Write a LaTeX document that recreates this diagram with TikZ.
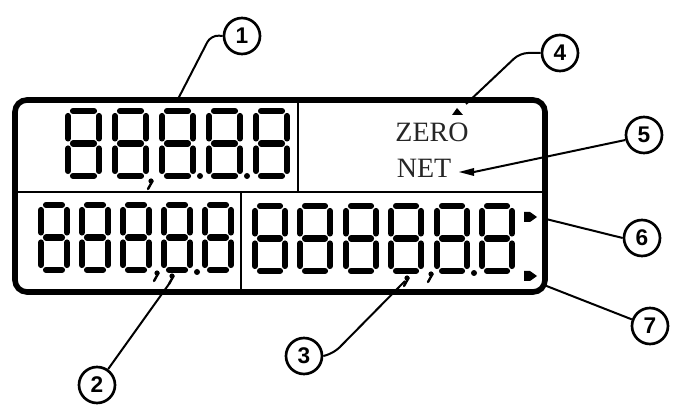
\documentclass[tikz,border=0pt]{standalone}
\usepackage{fontspec}
\setmainfont{Liberation Serif}
\setsansfont{Liberation Sans}
\usetikzlibrary{positioning, calc, arrows.meta}

% seven-segment digit: x, y of the top-left corner, width
\newcommand{\segdigit}[3]{%
  \begin{scope}[shift={(#1,#2)}]
    \pgfmathsetmacro{\segR}{#3-3}
    \pgfmathsetmacro{\segI}{#3-8}
    \draw[seg] (8,3) -- (\segI,3);
    \draw[seg] (8,35.5) -- (\segI,35.5);
    \draw[seg] (8,68) -- (\segI,68);
    \draw[seg] (3,8) -- (3,30.5);
    \draw[seg] (3,40.5) -- (3,63);
    \draw[seg] (\segR,8) -- (\segR,30.5);
    \draw[seg] (\segR,40.5) -- (\segR,63);
  \end{scope}}

% comma mark: x, y of its head
\newcommand{\segcomma}[2]{%
  \fill (#1,#2) circle (2.6);
  \draw[comma] (#1+1.5,#2) -- (#1-3,#2+8);}

\begin{document}
\begin{tikzpicture}[
    x=0.75pt, y=-0.75pt,
    seg/.style={line width=4.6pt, line cap=round},
    frame/.style={line width=4.2pt, rounded corners=9pt},
    divider/.style={line width=1.4pt},
    callout/.style={circle, draw, line width=2pt, minimum size=27pt, inner sep=0pt,
                    font=\sffamily\bfseries\fontsize{17}{17}\selectfont},
    leader/.style={line width=1.5pt, rounded corners=6pt},
    label/.style={font=\fontsize{21}{21}\selectfont, text=black!85},
    comma/.style={line width=1.8pt, line cap=round}
]
    \useasboundingbox (0,0) rectangle (678,409);

    % display frame and panes
    \draw[frame] (15,100) rectangle (545,292);
    \draw[divider] (15,192) -- (545,192);
    \draw[divider] (298,100) -- (298,192);
    \draw[divider] (241,192) -- (241,292);

    % digits
    \foreach \x in {65,112,159,206,253} {\segdigit{\x}{108}{37}}
    \foreach \x in {38,79,120,161,202} {\segdigit{\x}{202}{32}}
    \foreach \x in {252,297,343,388,434,479} {\segdigit{\x}{203}{36}}

    % decimal points and commas
    \segcomma{151}{181}
    \fill (200,176) circle (3);
    \fill (247,176) circle (3);
    \segcomma{157}{273}
    \segcomma{172}{276}
    \fill (197,272) circle (3);
    \segcomma{407}{278}
    \segcomma{431}{274}
    \fill (474,273) circle (3);

    % indicators
    \node[label] (zero) at (432,132) {ZERO};
    \node[label] (net) at (424,168) {NET};
    \coordinate (zeromark) at (457,112);
    \coordinate (netmark) at (474,172);
    \fill (452,115) -- (463,115) -- (457,108) -- cycle;
    \fill (459,172) -- (474,168) -- (474,176) -- cycle;
    \fill (524,212) -- (530,212) -- (537,217) -- (530,222) -- (524,222) -- cycle;
    \fill (524,271) -- (530,271) -- (537,276) -- (530,281) -- (524,281) -- cycle;

    % callouts
    \node[callout] (c1) at (242,36) {1};
    \node[callout] (c2) at (97,385) {2};
    \node[callout] (c3) at (304,356) {3};
    \node[callout] (c4) at (560,53) {4};
    \node[callout] (c5) at (644,135) {5};
    \node[callout] (c6) at (642,238) {6};
    \node[callout] (c7) at (650,326) {7};

    \coordinate (p1) at (177,101);
    \coordinate (p2) at (169,284);
    \coordinate (p3) at (405,281);
    \coordinate (p4) at (466,104);
    \coordinate (p6) at (546,219);
    \coordinate (p7) at (544,285);

    \draw[leader] (c1.west) -- (211,35) -- (p1);
    \draw[leader] (c2.55) -- (p2);
    \draw[leader] (c3.east) -- (334,353) -- (p3);
    \draw[leader] (c4.west) -- (520,53) -- (p4);
    \draw[leader] (c5.195) -- (netmark);
    \draw[leader] (c6.west) -- (p6);
    \draw[leader] (c7.160) -- (p7);
\end{tikzpicture}
\end{document}
